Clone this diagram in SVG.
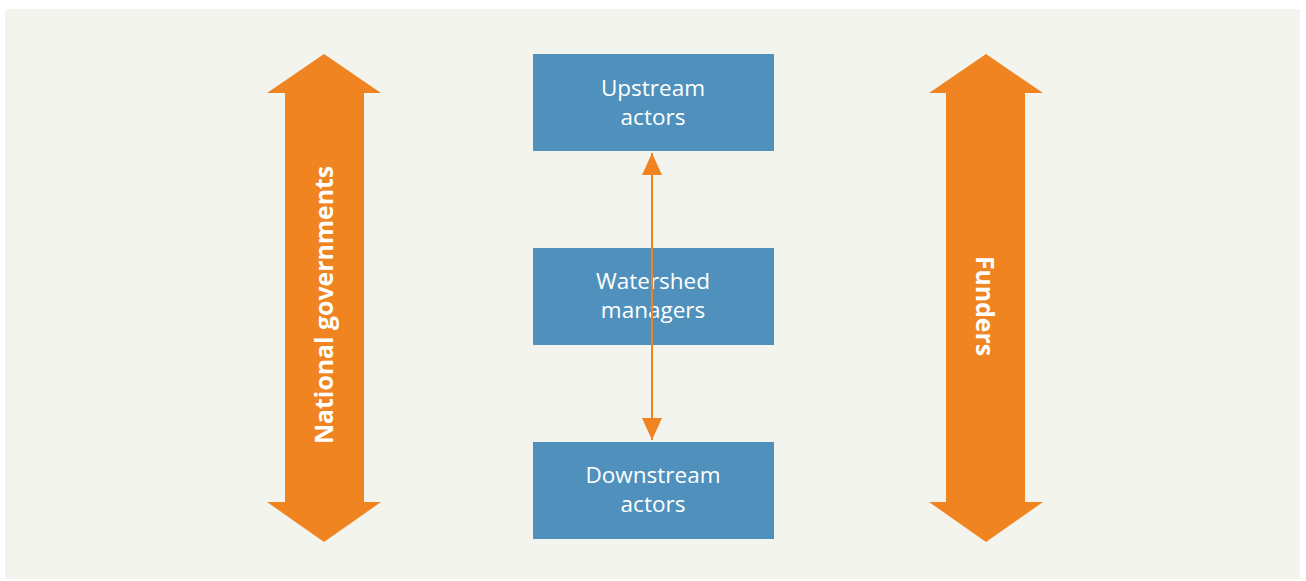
<svg xmlns="http://www.w3.org/2000/svg" width="1306" height="581" viewBox="0 0 1306 581">
<style>
.box{fill:#4f91bc}
.big{fill:#f08421}
.t{font-family:"Open Sans","Noto Sans",sans-serif;font-size:22.5px;fill:#fff;text-anchor:middle}
.tb{font-family:"Open Sans","Noto Sans",sans-serif;font-size:24.8px;font-weight:bold;fill:#fff;text-anchor:middle}
.conn{stroke:#f08421;stroke-width:2;fill:none}
</style>
<defs>
<marker id="ah" viewBox="0 0 22 20" refX="22" refY="10" markerWidth="22" markerHeight="20" markerUnits="userSpaceOnUse" orient="auto-start-reverse">
<path d="M0,0 L22,10 L0,20 Z" fill="#f08421"/>
</marker>
</defs>
<rect width="1306" height="581" fill="#ffffff"/>
<rect x="5" y="9" width="1295" height="570" fill="#f4f4ef"/>
<g id="national-governments">
<polygon class="big" points="324,54 381,93 364,93 364,502 381,502 324,542 267,502 285,502 285,93 267,93"/>
<text class="tb" transform="translate(324,305) rotate(-90)" dy="9">National governments</text>
</g>
<g id="funders">
<polygon class="big" points="986,54 1043,93 1025,93 1025,502 1043,502 986,542 929,502 946,502 946,93 929,93"/>
<text class="tb" transform="translate(985,306) rotate(90)" dy="9">Funders</text>
</g>
<g id="upstream">
<rect class="box" x="533" y="54" width="241" height="97"/>
<text class="t" x="653" y="96">Upstream</text>
<text class="t" x="653" y="125">actors</text>
</g>
<g id="watershed">
<rect class="box" x="533" y="248" width="241" height="97"/>
<text class="t" x="653" y="289">Watershed</text>
<text class="t" x="653" y="318">managers</text>
</g>
<g id="downstream">
<rect class="box" x="533" y="442" width="241" height="97"/>
<text class="t" x="653" y="483">Downstream</text>
<text class="t" x="653" y="512">actors</text>
</g>
<g id="connectors">
<line class="conn" x1="652" y1="153" x2="652" y2="440" marker-start="url(#ah)" marker-end="url(#ah)"/>
</g>
</svg>
